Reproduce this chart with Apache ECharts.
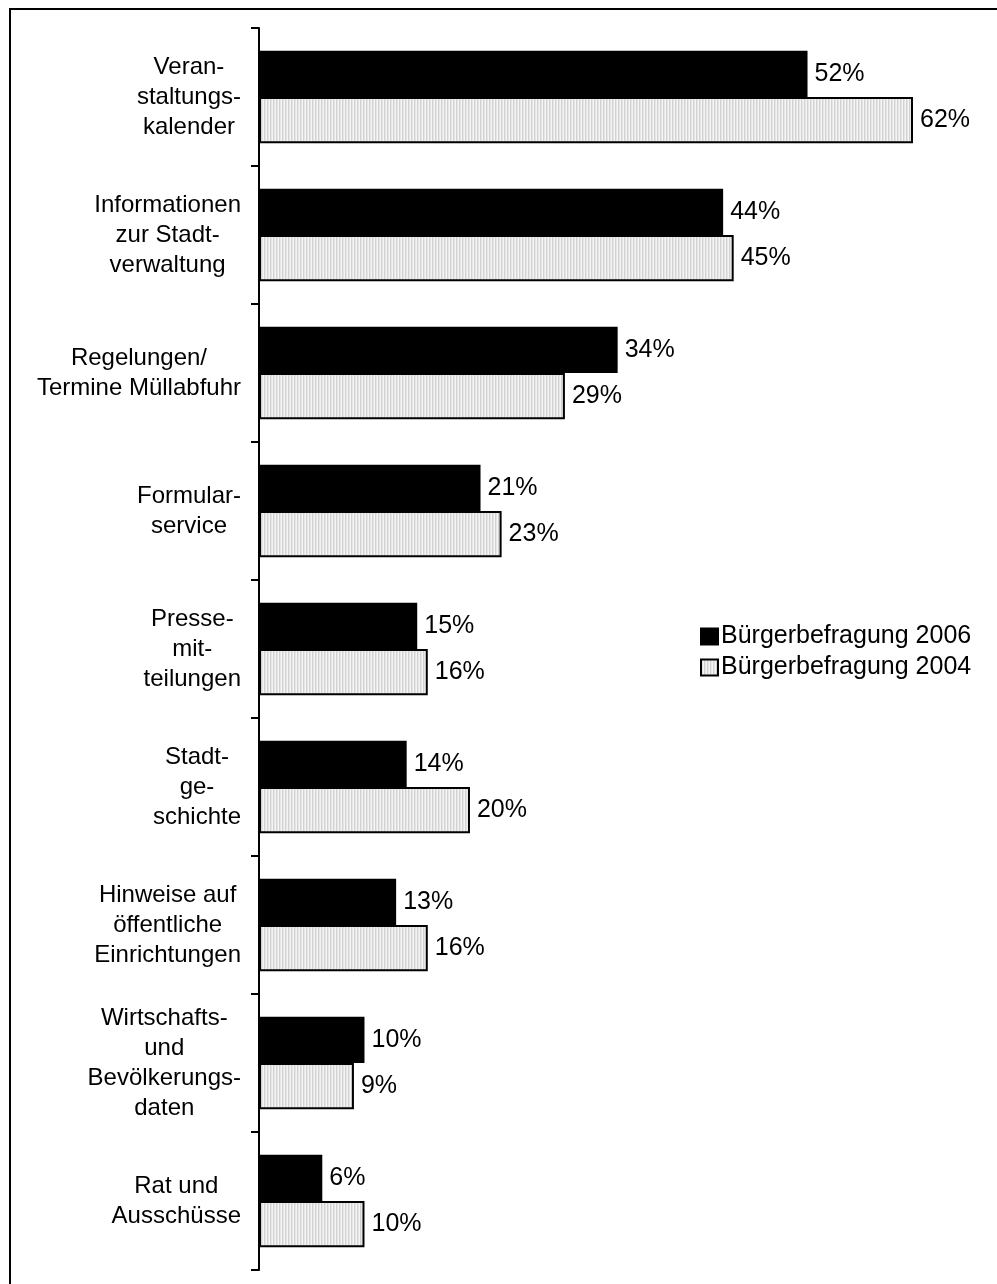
<!DOCTYPE html>
<html>
<head>
<meta charset="utf-8">
<script src="https://cdn.jsdelivr.net/npm/echarts@6/dist/echarts.min.js"></script>
<style>
  html, body { margin: 0; padding: 0; background: #fff; }
  #chart { width: 997px; height: 1284px; }
</style>
</head>
<body>
<div id="chart"></div>
<script>
// Categories (line breaks as printed next to the axis)
const categories = [
  'Veran-\nstaltungs-\nkalender',
  'Informationen\nzur Stadt-\nverwaltung',
  'Regelungen/\nTermine Müllabfuhr',
  'Formular-\nservice',
  'Presse-\nmit-\nteilungen',
  'Stadt-\nge-\nschichte',
  'Hinweise auf\nöffentliche\nEinrichtungen',
  'Wirtschafts-\nund\nBevölkerungs-\ndaten',
  'Rat und\nAusschüsse'
];
const seriesNames = ['Bürgerbefragung 2006', 'Bürgerbefragung 2004'];
const values2006 = [52, 44, 34, 21, 15, 14, 13, 10, 6];
const values2004 = [62, 45, 29, 23, 16, 20, 16, 9, 10];

const FONT = '"Liberation Sans", Arial, sans-serif';

// Fine, light vertical stripe fill for the 2004 bars
function stripePattern() {
  const c = document.createElement('canvas');
  c.width = 3; c.height = 2;
  const ctx = c.getContext('2d');
  ctx.fillStyle = '#f4f4f4'; ctx.fillRect(0, 0, 3, 2);
  ctx.fillStyle = '#d2d2d2'; ctx.fillRect(0, 0, 1, 2);
  ctx.fillStyle = '#e6e6e6'; ctx.fillRect(1, 0, 1, 2);
  return c;
}

const chart = echarts.init(document.getElementById('chart'), null, { renderer: 'canvas' });

const valueLabel = {
  show: true,
  position: 'right',
  distance: 7,
  formatter: p => p.value + '%',
  color: '#000',
  fontFamily: FONT,
  fontSize: 25
};

chart.setOption({
  animation: false,
  backgroundColor: '#fff',
  textStyle: { fontFamily: FONT },
  graphic: [{
    type: 'rect',
    shape: { x: 10, y: 9, width: 1000, height: 1300 },
    style: { fill: 'none', stroke: '#000', lineWidth: 2 },
    silent: true
  }],
  grid: { left: 259, top: 28, bottom: 14, right: 84, containLabel: false },
  legend: {
    orient: 'vertical',
    left: 695,
    top: 619,
    icon: 'rect',
    itemWidth: 17,
    itemHeight: 16,
    itemGap: 6,
    textStyle: { fontFamily: FONT, fontSize: 25, color: '#000', padding: [0, 0, 0, -2] },
    data: seriesNames
  },
  xAxis: {
    type: 'value',
    min: 0,
    max: 62,
    show: false
  },
  yAxis: {
    type: 'category',
    inverse: true,
    data: categories,
    axisLine: { show: true, lineStyle: { color: '#000', width: 2 } },
    axisTick: { show: true, length: 8, lineStyle: { color: '#000', width: 2 } },
    splitLine: { show: false },
    axisLabel: {
      margin: 18,
      align: 'right',
      color: '#000',
      fontFamily: FONT,
      fontSize: 24,
      lineHeight: 30,
      formatter: v => v.split('\n').map(l => '{c|' + l + '}').join('\n'),
      rich: { c: { align: 'center', fontFamily: FONT, fontSize: 24, lineHeight: 30, color: '#000' } }
    }
  },
  series: [
    {
      name: seriesNames[0],
      type: 'bar',
      data: values2006,
      barGap: '0%',
      barCategoryGap: '33%',
      itemStyle: { color: '#000', borderColor: '#000', borderWidth: 2 },
      label: valueLabel
    },
    {
      name: seriesNames[1],
      type: 'bar',
      data: values2004,
      barGap: '0%',
      barCategoryGap: '33%',
      itemStyle: { color: { image: stripePattern(), repeat: 'repeat' }, borderColor: '#000', borderWidth: 2 },
      label: valueLabel
    }
  ]
});
</script>
</body>
</html>
